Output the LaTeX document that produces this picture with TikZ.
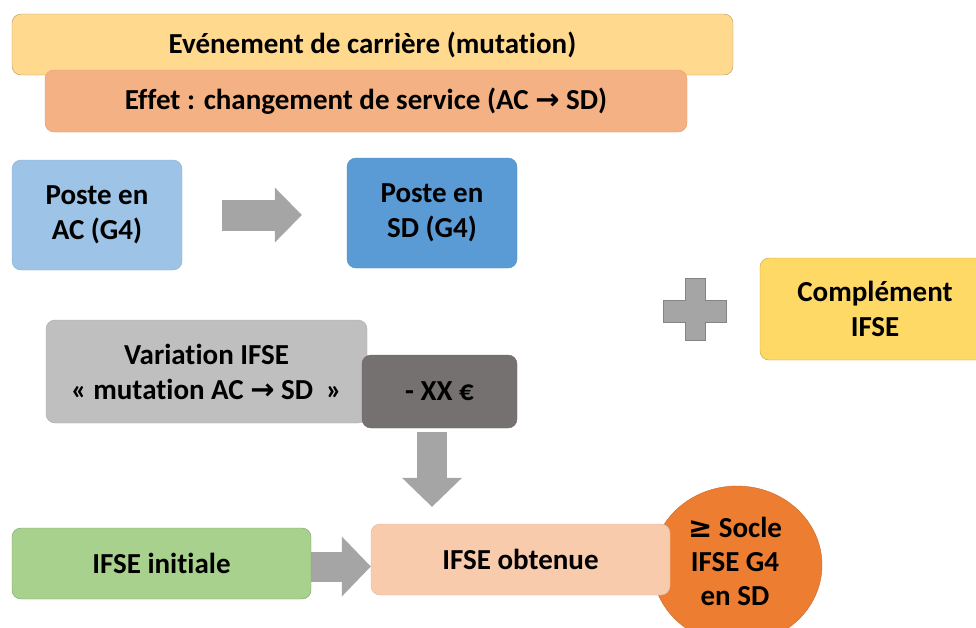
\documentclass[tikz,border=0pt]{standalone}
\usepackage{fontspec}
\setmainfont{Carlito}[Ligatures=NoCommon]
\newfontfamily\symfont{DejaVu Sans}
\usetikzlibrary{arrows.meta}
\usetikzlibrary{shapes.geometric}
\definecolor{carriere}{HTML}{FFD98E}
\definecolor{effet}{HTML}{F4B183}
\definecolor{posteac}{HTML}{9DC3E6}
\definecolor{postesd}{HTML}{5B9BD5}
\definecolor{complement}{HTML}{FFD966}
\definecolor{variation}{HTML}{BFBFBF}
\definecolor{minus}{HTML}{767171}
\definecolor{initiale}{HTML}{A9D18E}
\definecolor{obtenue}{HTML}{F8CBAD}
\definecolor{socle}{HTML}{ED7D31}
\definecolor{arrowgray}{HTML}{A5A5A5}
\newcommand{\ra}{{\symfont\bfseries →}}
\tikzstyle{box}=[draw, rounded corners=9pt, inner sep=0pt, align=center,
    font=\fontsize{29}{35}\selectfont\bfseries]
\tikzstyle{bigarrow}=[draw=arrowgray, line width=30pt,
    -{Triangle[length=29pt, width=60pt, line width=0pt]}]

\begin{document}
\begin{tikzpicture}[x=1pt, y=-1pt]
\useasboundingbox (0,0) rectangle (976,627);
\node[box, fill=carriere, draw=carriere!70!black, minimum width=721, minimum height=61] (carriere) at (372.5,44.5) {Evénement de carrière (mutation)};
\node[box, fill=effet, draw=effet!90!black, minimum width=642, minimum height=62] (effet) at (366,101) {Effet : changement de service (AC \ra{} SD)};
\node[box, fill=posteac, draw=posteac!90!black, minimum width=170, minimum height=110] (posteac) at (97,215) {Poste en\\AC (G4)};
\node[box, fill=postesd, draw=postesd!90!black, minimum width=170, minimum height=110] (postesd) at (432,213) {Poste en\\SD (G4)};
\draw[bigarrow, line width=31pt, -{Triangle[length=27pt, width=55pt, line width=0pt]}] ([xshift=40pt]posteac.east) -- ([xshift=-45pt]postesd.west |- posteac.east);
% signe plus
\filldraw[fill=arrowgray, draw=arrowgray!80!black] (685,278) -- (705,278) -- (705,300) -- (726,300) -- (726,322) -- (705,322) -- (705,340) -- (685,340) -- (685,322) -- (663,322) -- (663,300) -- (685,300) -- cycle;
\node[box, fill=complement, draw=complement!75!black, minimum width=230, minimum height=102] (complement) at (875,309) {Complément\\IFSE};
\node[box, fill=variation, draw=variation!90!black, minimum width=321, minimum height=103] (variation) at (206.5,371.5) {Variation IFSE\\« mutation AC \ra{} SD~ »};
\node[box, fill=minus, draw=minus!90!black, minimum width=155, minimum height=73] (minus) at (439.5,391.5) {- XX €};
\node[ellipse, draw=socle!85!black, fill=socle, minimum width=170, minimum height=158, inner sep=0pt] (socle) at (737,565) {};
\node[align=center, font=\fontsize{29}{34}\selectfont\bfseries] (socletxt) at (735,561) {{\symfont ≥} Socle\\IFSE G4\\en SD};
\node[box, fill=initiale, draw=initiale!75!black, minimum width=299, minimum height=71] (initiale) at (161.5,563.5) {IFSE initiale};
\node[box, fill=obtenue, draw=obtenue!90!black, minimum width=299, minimum height=71] (obtenue) at (520.5,559.5) {IFSE obtenue};
\coordinate (dtop) at ([xshift=-7.5pt, yshift=-4pt]minus.south);
\draw[bigarrow] (dtop) -- ([yshift=17pt]dtop |- obtenue.north);
\draw[bigarrow] ([yshift=-3pt]initiale.east) -- ([yshift=-3pt]initiale.east -| obtenue.west);
\end{tikzpicture}
\end{document}
